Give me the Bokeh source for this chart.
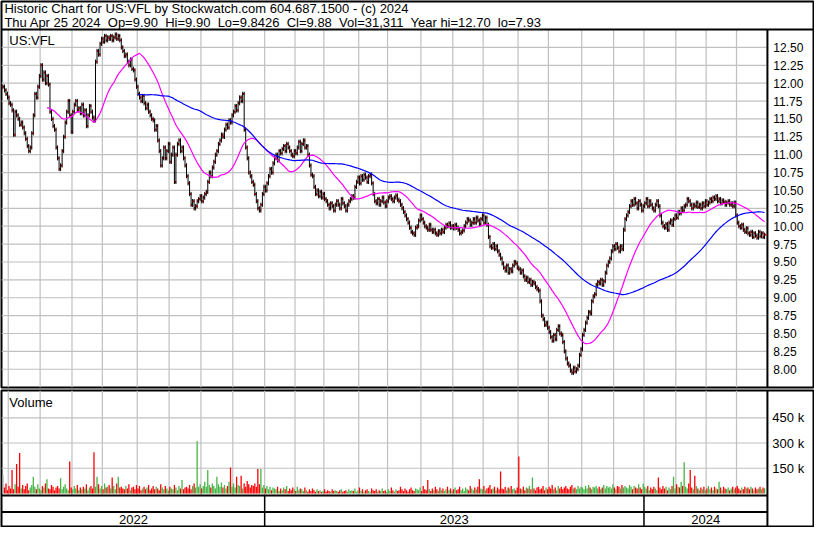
import numpy as np
import pandas as pd
from bokeh.plotting import figure
from bokeh.models import Range1d
from bokeh.layouts import column
from bokeh.embed import file_html
from bokeh.resources import INLINE
from bokeh.core.properties import value

# ---------------- data ----------------
symbol = "US:VFL"
header_line1 = "Historic Chart for US:VFL by Stockwatch.com 604.687.1500 - (c) 2024"
header_line2 = "Thu Apr 25 2024\u00a0 Op=9.90\u00a0 Hi=9.90\u00a0 Lo=9.8426\u00a0 Cl=9.88\u00a0 Vol=31,311\u00a0 Year hi=12.70\u00a0 lo=7.93"
start_date = "2022-04-26"
holidays = ["2022-05-30", "2022-06-20", "2022-07-04", "2022-09-05", "2022-11-24", "2022-12-26",
            "2023-01-02", "2023-01-16", "2023-02-20", "2023-04-07", "2023-05-29", "2023-06-19",
            "2023-07-04", "2023-09-04", "2023-11-23", "2023-12-25", "2024-01-01", "2024-01-15",
            "2024-02-19", "2024-03-29"]

closes = [
    11.95, 11.90, 11.85, 11.80, 11.72, 11.70, 11.62, 11.28, 11.60, 11.55,
    11.50, 11.42, 11.45, 11.38, 11.30, 11.22, 11.12, 11.05, 11.10, 11.30,
    11.55, 11.85, 11.80, 11.95, 12.10, 12.25, 12.05, 12.15, 12.00, 12.10, 11.98,
    11.60, 11.50, 11.40, 11.35, 11.10, 10.95, 10.80, 10.85, 11.05, 11.25, 11.45,
    11.60, 11.75, 11.55, 11.32, 11.60, 11.70, 11.75, 11.62,
    11.65, 11.58, 11.70, 11.55, 11.62, 11.40, 11.55, 11.68, 11.60, 11.52, 11.48,
    12.30, 12.45, 12.40, 12.55, 12.62, 12.58, 12.66, 12.60, 12.64,
    12.62, 12.66, 12.60, 12.64, 12.68, 12.62, 12.66, 12.60,
    12.50, 12.45, 12.38, 12.40, 12.30, 12.25, 12.33, 12.20, 12.18, 12.05, 11.95,
    11.85, 11.80, 11.75, 11.82, 11.72, 11.65, 11.70, 11.60, 11.55, 11.50, 11.48,
    11.35, 11.40, 11.20, 11.05, 10.85, 10.95,
    11.10, 10.95, 11.05, 11.15, 10.90, 11.00, 11.10, 10.62,
    11.00, 11.15, 11.20, 11.05, 11.10, 10.95, 10.85, 10.70, 10.60,
    10.45, 10.30, 10.35, 10.25, 10.28, 10.35, 10.38, 10.42, 10.35, 10.40, 10.45, 10.48,
    10.62, 10.75, 10.70, 10.82, 10.90, 11.00, 11.05, 11.15, 11.20, 11.28, 11.25, 11.35,
    11.42, 11.38, 11.48, 11.45, 11.55, 11.60, 11.68, 11.62, 11.72, 11.80, 11.75, 11.85,
    11.35, 11.10, 10.95, 10.75, 10.70, 10.62, 10.58, 10.45, 10.35, 10.25, 10.22, 10.30,
    10.45, 10.55, 10.50, 10.60, 10.70, 10.80, 10.75, 10.88,
    10.95, 11.00, 10.92, 11.05, 11.02, 11.08, 11.12, 11.05, 11.15, 11.10, 11.05,
    11.00, 10.98, 11.05, 11.02, 11.10, 11.18, 11.05, 11.15, 11.20, 11.10, 11.12,
    11.00, 10.85, 10.72, 10.70, 10.55, 10.45,
    10.50, 10.42, 10.48, 10.40, 10.45, 10.38, 10.35, 10.30, 10.25, 10.32, 10.28, 10.22, 10.30,
    10.35, 10.30, 10.25, 10.38, 10.32, 10.28, 10.22, 10.30, 10.35, 10.38, 10.42, 10.40,
    10.55, 10.62, 10.68, 10.60, 10.70, 10.65, 10.72, 10.68, 10.62, 10.70, 10.72, 10.60,
    10.45, 10.35, 10.32, 10.38, 10.30, 10.35, 10.40, 10.33, 10.28, 10.35, 10.40,
    10.42, 10.38, 10.35, 10.40, 10.43, 10.37, 10.35, 10.30, 10.25, 10.20,
    10.15, 10.10, 10.05, 9.98, 9.92, 9.90, 9.88, 9.98, 10.00,
    10.08, 10.15, 10.10, 10.05, 10.00, 9.98, 9.95, 10.02, 9.95,
    9.92, 9.95, 9.90, 9.88, 9.93, 9.90, 9.95, 9.92, 9.98, 10.02, 10.00, 10.04, 9.98,
    10.00, 9.97, 10.02, 9.98, 9.95, 9.90, 9.92, 9.94,
    10.00, 10.05, 10.10, 10.08, 10.02, 10.05, 10.10, 10.05, 10.12, 10.08, 10.03, 10.10,
    10.15, 10.05, 10.12, 10.02, 9.85, 9.72, 9.70, 9.75, 9.68, 9.72, 9.65, 9.60, 9.55,
    9.48, 9.42, 9.38, 9.45, 9.35, 9.40, 9.37, 9.45, 9.50, 9.48, 9.42, 9.40, 9.35, 9.38,
    9.30, 9.25, 9.28, 9.22, 9.25, 9.18, 9.22, 9.20, 9.15, 9.12, 9.10, 8.95, 8.75,
    8.70, 8.62, 8.65, 8.58, 8.52, 8.45, 8.40, 8.48, 8.42, 8.55, 8.60, 8.50, 8.48, 8.38, 8.25,
    8.15, 8.08, 8.05, 7.98, 7.95, 8.02, 7.97, 8.00, 8.05, 8.20, 8.28, 8.48, 8.55,
    8.65, 8.72, 8.80, 8.78, 8.95, 9.02, 9.05, 9.18, 9.22, 9.20, 9.25, 9.18, 9.23,
    9.35, 9.45, 9.50, 9.55, 9.65, 9.72, 9.68, 9.75, 9.70, 9.65, 9.72, 9.68,
    9.95, 10.10, 10.15,
    10.20, 10.28, 10.35, 10.30, 10.38, 10.32, 10.25, 10.35, 10.30, 10.22, 10.28,
    10.32, 10.38, 10.28, 10.35, 10.30, 10.25, 10.22, 10.30, 10.35, 10.28,
    10.15, 10.05, 10.00, 9.98, 10.03, 9.95, 10.05, 10.08, 10.02,
    10.10, 10.15, 10.12, 10.20, 10.18, 10.25, 10.22, 10.28, 10.30, 10.38, 10.35, 10.30,
    10.25, 10.30, 10.28, 10.33, 10.27, 10.30, 10.25, 10.32, 10.28, 10.35, 10.30, 10.33, 10.38, 10.35,
    10.40, 10.38, 10.42, 10.35, 10.38, 10.32, 10.36, 10.34, 10.30,
    10.33, 10.35, 10.30, 10.32, 10.28, 10.33, 10.15, 10.05,
    10.00, 9.98, 10.02, 9.95, 9.92, 9.97, 9.90,
    9.88, 9.92, 9.85, 9.90, 9.87, 9.84, 9.92, 9.86, 9.90, 9.85, 9.88,
]

volumes_k = [
    110, 35, 60, 20, 45, 30, 140, 25, 55, 175,
    40, 240, 30, 50, 25, 45, 60, 20, 35, 50,
    100, 40, 25, 55, 30, 20, 45, 35, 60, 85,
    30, 25, 50, 40, 20, 35, 45, 30, 90, 25,
    40, 55, 30, 20, 190, 35, 25, 45, 30, 50,
    20, 35, 25, 40, 30, 55, 20, 35, 45, 30,
    245, 40, 100, 55, 30, 45, 25, 60, 35, 40,
    50, 30, 95, 45, 25, 60, 100, 35, 40, 30,
    25, 45, 30, 55, 20, 35, 40, 25, 50, 30,
    45, 20, 30, 40, 25, 35, 50, 20, 30, 45,
    25, 40, 30, 20, 55, 35, 25, 45, 30, 20,
    40, 30, 25, 50, 35, 20, 45, 30, 80, 25,
    35, 40, 30, 50, 25, 45, 60, 35, 310, 40,
    55, 30, 45, 70, 40, 140, 50, 35, 60, 45,
    30, 100, 55, 40, 65, 35, 50, 30, 45, 70,
    155, 40, 60, 35, 100, 50, 45, 105, 30, 60,
    40, 75, 55, 35, 50, 45, 60, 40, 145, 55,
    145, 35, 50, 30, 45, 25, 40, 20, 35, 30,
    25, 40, 15, 30, 20, 35, 25, 45, 15, 30,
    20, 35, 25, 15, 40, 20, 30, 25, 15, 35,
    20, 10, 25, 15, 30, 20, 10, 25, 15, 20,
    10, 15, 25, 10, 20, 15, 10, 25, 15, 20,
    15, 10, 20, 25, 10, 15, 20, 10, 25, 15,
    20, 15, 30, 10, 20, 35, 15, 25, 10, 20,
    25, 15, 10, 30, 20, 15, 25, 10, 20, 15,
    30, 15, 20, 10, 25, 15, 35, 20, 10, 25,
    15, 20, 40, 25, 15, 30, 20, 10, 25, 35,
    20, 15, 30, 25, 20, 35, 15, 45, 25, 20,
    80, 25, 15, 30, 20, 40, 25, 15, 35, 20,
    30, 15, 25, 40, 20, 30, 15, 25, 35, 20,
    25, 40, 20, 30, 15, 35, 25, 20, 45, 30,
    20, 35, 25, 40, 85, 30, 25, 45, 20, 30,
    35, 50, 25, 30, 40, 20, 35, 25, 130, 30,
    25, 40, 20, 35, 30, 45, 25, 30, 20, 35,
    220, 30, 25, 40, 20, 35, 30, 45, 25, 95,
    30, 20, 35, 40, 25, 30, 45, 20, 35, 25,
    40, 30, 50, 25, 35, 20, 45, 30, 40, 25,
    35, 45, 30, 25, 40, 50, 30, 35, 25, 45,
    30, 40, 35, 25, 45, 30, 50, 35, 25, 40,
    35, 45, 30, 40, 25, 35, 50, 30, 45, 35,
    40, 30, 55, 35, 25, 45, 40, 30, 50, 35,
    45, 35, 30, 50, 40, 25, 45, 35, 30, 55,
    35, 25, 60, 40, 30, 45, 20, 35, 25, 40,
    30, 20, 95, 35, 25, 45, 30, 40, 20, 35,
    25, 45, 100, 30, 55, 40, 35, 70, 45, 185,
    40, 30, 60, 140, 35, 25, 105, 45, 30, 20,
    35, 25, 40, 20, 30, 45, 25, 35, 20, 40,
    30, 25, 70, 35, 20, 40, 30, 25, 35, 20,
    30, 40, 25, 35, 45, 30, 20, 35, 25, 40,
    30, 35, 25, 40, 30, 20, 35, 25, 30, 40,
    25, 35, 31,
]

price_ticks = [8.00, 8.25, 8.50, 8.75, 9.00, 9.25, 9.50, 9.75, 10.00, 10.25,
               10.50, 10.75, 11.00, 11.25, 11.50, 11.75, 12.00, 12.25, 12.50]
price_tick_labels = ["8.00", "8.25", "8.50", "8.75", "9.00", "9.25", "9.50", "9.75", "10.00", "10.25",
                     "10.50", "10.75", "11.00", "11.25", "11.50", "11.75", "12.00", "12.25", "12.50"]
vol_ticks = [150, 300, 450]
vol_tick_labels = ["150 k", "300 k", "450 k"]
ma_short, ma_long = 30, 90

# ---------------- derived ----------------
N = len(closes)
n_vol = min(N, len(volumes_k))
bday = pd.offsets.CustomBusinessDay(holidays=holidays)
dates = pd.date_range(start=start_date, periods=N, freq=bday)
xs = np.arange(N)
c = np.array(closes, dtype=float)
prev = np.concatenate([[c[0]], c[:-1]])
hi = np.maximum(prev, c) + 0.03
lo = np.minimum(prev, c) - 0.03
ma1 = pd.Series(c).rolling(ma_short).mean()
ma2 = pd.Series(c).rolling(ma_long).mean()
month_starts = [i - 0.5 for i in range(1, N) if dates[i].month != dates[i - 1].month]
year_starts = [i - 0.5 for i in range(1, N) if dates[i].year != dates[i - 1].year]
years = sorted(set(d.year for d in dates))

vol = np.array(volumes_k[:n_vol], dtype=float)
vcol = []
for i in range(n_vol):
    if c[i] > prev[i]:
        vcol.append("#44b444")
    elif c[i] < prev[i]:
        vcol.append("#ff0000")
    else:
        vcol.append("#a8a8a8")

# ---------------- layout (reference pixel geometry) ----------------
W, HA, HB = 814, 389, 138
SX, SY = 830 / W, 543 / 527.0
PX0, PXD = 2.5, 1.547           # ref px of bar 0 and px per bar
def ix(px):
    return (px - PX0) / PXD
def py(px):
    return 8.0 + (380.0 - px) / 73.7
def vy(px):
    return (508.0 - px) * 150.0 / 26.0

x0, x1 = ix(1 * SX), ix((W - 1) * SX)
sep = ix(782)
FONT = value("Liberation Sans")
GRID = "#c0c0c0"

# ---- Figure A : header + price ----
pa = figure(width=W, height=HA, output_backend="svg", toolbar_location=None,
            x_axis_location=None, y_axis_location=None,
            x_range=Range1d(x0, x1), y_range=Range1d(py(398.8), py(1 * SY)),
            min_border_left=1, min_border_right=1, min_border_top=1, min_border_bottom=2,
            outline_line_color="black", outline_line_width=2, outline_line_alpha=1.0,
            background_fill_color="white", border_fill_color="white")
pa.grid.visible = False
ptop = py(30)
pbot = py(398.8)
pa.segment(x0=[x0] * len(price_ticks), y0=price_ticks, x1=[ix(781)] * len(price_ticks), y1=price_ticks,
           line_color=GRID, line_width=1.2)
pa.segment(x0=month_starts, y0=[pbot] * len(month_starts), x1=month_starts, y1=[ptop] * len(month_starts),
           line_color=GRID, line_width=1.2)
pa.segment(x0=[x0], y0=[ptop], x1=[x1], y1=[ptop], line_color="black", line_width=2)
pa.segment(x0=[sep], y0=[pbot], x1=[sep], y1=[ptop], line_color="black", line_width=2)

pa.scatter(xs + 0.55, c, marker="square", size=2.0, fill_color="#ff0000", line_color=None)
pa.segment(x0=xs, y0=lo, x1=xs, y1=hi, line_color="black", line_width=1)
pa.line(xs, ma1, line_color="#ff00ff", line_width=1.2)
pa.line(xs, ma2, line_color="#0000ff", line_width=1.2)

pa.text(x=[ix(788)] * len(price_ticks), y=price_ticks, text=price_tick_labels,
        text_font=FONT, text_font_size=value("12px"), text_color="black",
        text_align="left", text_baseline="middle")
pa.text(x=[ix(9)], y=[py(41)], text=[symbol], text_font=FONT, text_font_size=value("13px"),
        text_color="black", text_align="left", text_baseline="middle")
pa.text(x=[ix(4), ix(4)], y=[py(8), py(23)], text=[header_line1, header_line2], text_font=FONT,
        text_font_size=value("13px"), text_color="black", text_align="left", text_baseline="middle")

# ---- Figure B : volume + year strip ----
btop_ref, bbot_ref = 401.9, 542.0
pb = figure(width=W, height=HB, output_backend="svg", toolbar_location=None,
            x_axis_location=None, y_axis_location=None,
            x_range=Range1d(x0, x1), y_range=Range1d(vy(bbot_ref), vy(btop_ref)),
            min_border_left=1, min_border_right=1, min_border_top=1, min_border_bottom=1,
            outline_line_color="black", outline_line_width=2, outline_line_alpha=1.0,
            background_fill_color="white", border_fill_color="white")
pb.grid.visible = False
pb.extra_y_ranges = {"strip": Range1d(0, (bbot_ref - btop_ref) / 32.0)}
def sy(px):
    return (bbot_ref - px) / 32.0
stop = sy(btop_ref)

pb.segment(x0=[x0] * len(vol_ticks), y0=vol_ticks, x1=[ix(781)] * len(vol_ticks), y1=vol_ticks,
           line_color=GRID, line_width=1.2)
pb.segment(x0=month_starts, y0=[1.0] * len(month_starts), x1=month_starts, y1=[stop] * len(month_starts),
           line_color=GRID, line_width=1.2, y_range_name="strip")
pb.vbar(x=xs[:n_vol], top=vol, bottom=0, width=0.85, fill_color=vcol, line_color=None)

pb.segment(x0=[x0, x0], y0=[sy(510), sy(527)], x1=[sep, sep], y1=[sy(510), sy(527)],
           line_color="black", line_width=2, y_range_name="strip")
pb.segment(x0=[sep], y0=[0], x1=[sep], y1=[stop], line_color="black", line_width=2, y_range_name="strip")
pb.segment(x0=year_starts, y0=[0] * len(year_starts), x1=year_starts, y1=[sy(510)] * len(year_starts),
           line_color="black", line_width=1.5, y_range_name="strip")
bounds = [ix(2)] + year_starts + [sep]
year_x = [(bounds[k] + bounds[k + 1]) / 2 for k in range(len(years))]
pb.text(x=year_x, y=[sy(535)] * len(years), text=[str(y) for y in years], text_font=FONT,
        text_font_size=value("13px"), text_color="black", text_align="center", text_baseline="middle",
        y_range_name="strip")
pb.text(x=[ix(787)] * len(vol_ticks), y=vol_ticks, text=vol_tick_labels, text_font=FONT,
        text_font_size=value("13px"), text_color="black", text_align="left", text_baseline="middle")
pb.text(x=[ix(9)], y=[vy(414)], text=["Volume"], text_font=FONT, text_font_size=value("13px"),
        text_color="black", text_align="left", text_baseline="middle")

layout = column(pa, pb, spacing=0)
open("out.html", "w").write(file_html(layout, INLINE))
